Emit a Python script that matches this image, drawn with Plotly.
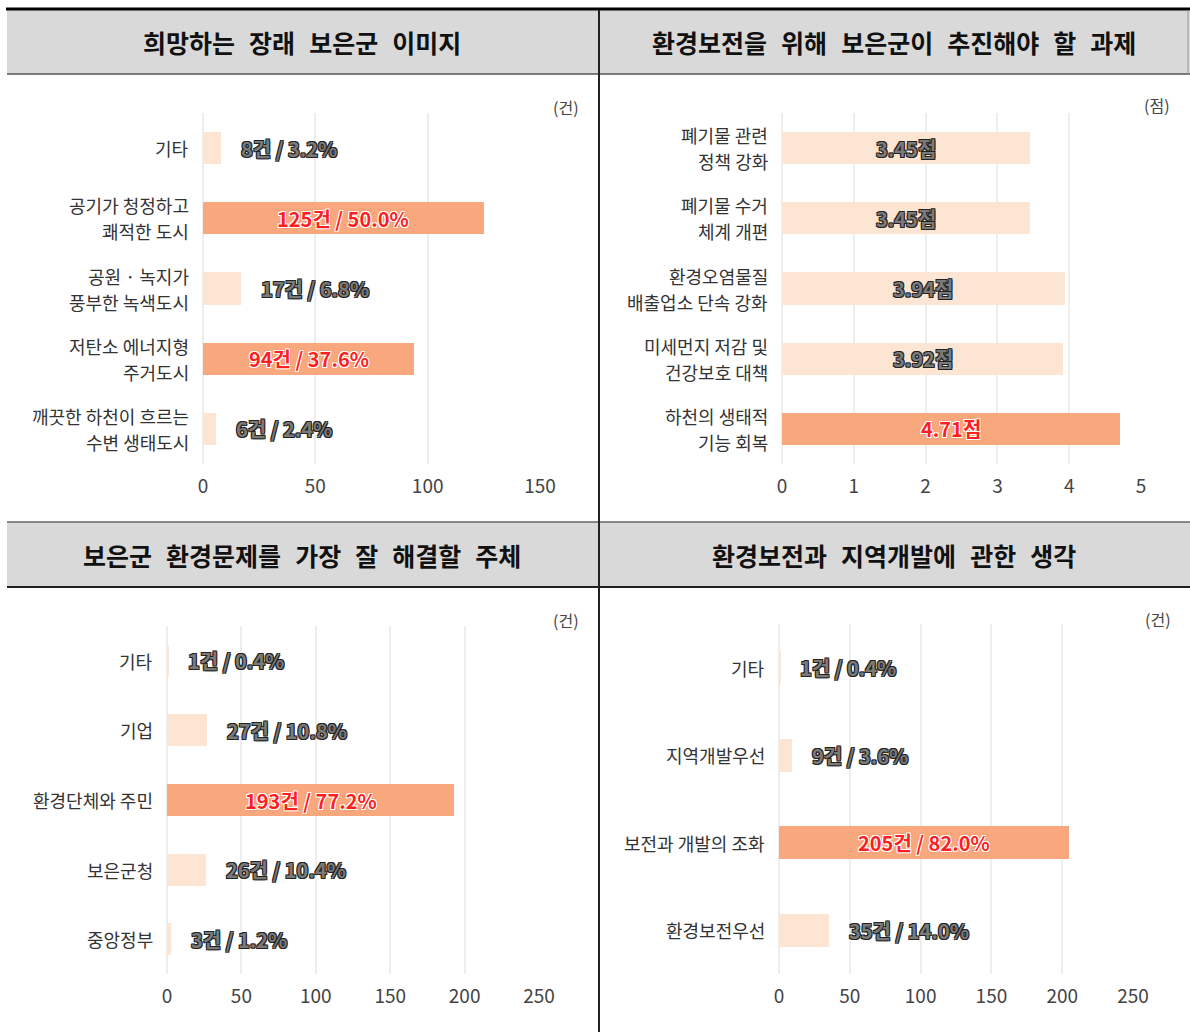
import plotly.graph_objects as go

W, H = 1190, 1032

titles = ["희망하는 장래 보은군 이미지",
          "환경보전을 위해 보은군이 추진해야 할 과제",
          "보은군 환경문제를 가장 잘 해결할 주체",
          "환경보전과 지역개발에 관한 생각"]

p1_cats = ["기타", "공기가 청정하고\n쾌적한 도시", "공원 · 녹지가\n풍부한 녹색도시",
           "저탄소 에너지형\n주거도시", "깨끗한 하천이 흐르는\n수변 생태도시"]
p1_vals = [8, 125, 17, 94, 6]
p1_pcts = [3.2, 50.0, 6.8, 37.6, 2.4]
p1_high = [False, True, False, True, False]

p2_cats = ["폐기물 관련\n정책 강화", "폐기물 수거\n체계 개편", "환경오염물질\n배출업소 단속 강화",
           "미세먼지 저감 및\n건강보호 대책", "하천의 생태적\n기능 회복"]
p2_vals = [3.45, 3.45, 3.94, 3.92, 4.71]
p2_high = [False, False, False, False, True]

p3_cats = ["기타", "기업", "환경단체와 주민", "보은군청", "중앙정부"]
p3_vals = [1, 27, 193, 26, 3]
p3_pcts = [0.4, 10.8, 77.2, 10.4, 1.2]
p3_high = [False, False, True, False, False]

p4_cats = ["기타", "지역개발우선", "보전과 개발의 조화", "환경보전우선"]
p4_vals = [1, 9, 205, 35]
p4_pcts = [0.4, 3.6, 82.0, 14.0]
p4_high = [False, False, True, False]

units = ["(건)", "(점)", "(건)", "(건)"]
x_ticks = [[0, 50, 100, 150], [0, 1, 2, 3, 4, 5], [0, 50, 100, 150, 200, 250], [0, 50, 100, 150, 200, 250]]

FONT = "Noto Sans CJK KR"
ORANGE = "#f8a87c"
LIGHT = "#fde5d3"
GRID = "#eeeeee"


def px_x(p):
    return p / W


def px_y(p):
    return 1 - p / H


panels = [
    dict(cats=p1_cats, vals=p1_vals, labels=[f"{v}건 / {p:.1f}%" for v, p in zip(p1_vals, p1_pcts)],
         high=p1_high, inside_all=False, rng=[0, 150], xd=[203, 540], yd=[113, 464], width=0.46,
         unit_pos=(566, 107)),
    dict(cats=p2_cats, vals=p2_vals, labels=[f"{v:.2f}점" for v in p2_vals],
         high=p2_high, inside_all=True, rng=[0, 5], xd=[782, 1141], yd=[113, 464], width=0.46,
         unit_pos=(1157, 105)),
    dict(cats=p3_cats, vals=p3_vals, labels=[f"{v}건 / {p:.1f}%" for v, p in zip(p3_vals, p3_pcts)],
         high=p3_high, inside_all=False, rng=[0, 250], xd=[167, 539], yd=[626, 974], width=0.46,
         unit_pos=(566, 620)),
    dict(cats=p4_cats, vals=p4_vals, labels=[f"{v}건 / {p:.1f}%" for v, p in zip(p4_vals, p4_pcts)],
         high=p4_high, inside_all=False, rng=[0, 250], xd=[779, 1133], yd=[624, 974], width=0.38,
         unit_pos=(1158, 619)),
]

fig = go.Figure()
annotations = []
shapes = []
layout_axes = {}

grey_shadow = "1px 1px 0 #222, -1px -1px 0 #222, 1px -1px 0 #222, -1px 1px 0 #222"
red_shadow = "1px 1px 0 #fff, -1px -1px 0 #fff, 1px -1px 0 #fff, -1px 1px 0 #fff, 0 0 2px #c00"

for i, p in enumerate(panels):
    n = len(p["cats"])
    ax = "" if i == 0 else str(i + 1)
    xa, ya = "x" + ax, "y" + ax
    idx = list(range(n))
    colors = [ORANGE if h else LIGHT for h in p["high"]]
    fig.add_trace(go.Bar(x=p["vals"], y=idx, orientation="h", xaxis=xa, yaxis=ya,
                         marker=dict(color=colors, line=dict(width=0)), width=p["width"],
                         hoverinfo="skip", showlegend=False))
    layout_axes["xaxis" + ax] = dict(
        domain=[px_x(p["xd"][0]), px_x(p["xd"][1])], range=p["rng"], anchor=ya,
        tickvals=x_ticks[i], showgrid=True, gridcolor=GRID, gridwidth=2,
        zeroline=True, zerolinecolor=GRID, zerolinewidth=2, showline=False,
        ticks="", ticklabelstandoff=9, automargin=False,
        tickfont=dict(family=FONT, size=19, color="#444"), fixedrange=True)
    layout_axes["yaxis" + ax] = dict(
        domain=[px_y(p["yd"][1]), px_y(p["yd"][0])], range=[n - 0.5, -0.5], anchor=xa,
        showticklabels=False, showgrid=False, zeroline=False, showline=False, fixedrange=True,
        automargin=False)

    # category labels (one text per line, 26px line pitch)
    for j, c in enumerate(p["cats"]):
        lines = c.split("\n")
        k = len(lines)
        for li, line in enumerate(lines):
            shift = (k - 1) / 2 * 26 - li * 26
            annotations.append(dict(
                text=line, xref=xa + " domain", yref=ya, x=0, y=j, xanchor="right",
                yanchor="middle", xshift=-12, yshift=shift, showarrow=False,
                font=dict(family=FONT, size=18, color="#333")))

    # value labels
    for j, (v, lab, h) in enumerate(zip(p["vals"], p["labels"], p["high"])):
        inside = h or p["inside_all"]
        font = dict(family=FONT, size=20, weight="bold",
                    color="#ff1f1f" if h else "#7a7a7a",
                    shadow=red_shadow if h else grey_shadow)
        if inside:
            annotations.append(dict(text=lab, xref=xa, yref=ya, x=v / 2, y=j, xanchor="center",
                                    yanchor="middle", showarrow=False, font=font))
        else:
            annotations.append(dict(text=lab, xref=xa, yref=ya, x=v, y=j, xanchor="left",
                                    yanchor="middle", xshift=18, showarrow=False, font=font))

    ux, uy = p["unit_pos"]
    annotations.append(dict(text=units[i], xref="paper", yref="paper", x=px_x(ux), y=px_y(uy),
                            xanchor="center", yanchor="middle", showarrow=False,
                            font=dict(family=FONT, size=16, color="#444")))

# panel headers and frame lines
for top, bot in [(10, 74), (522, 587)]:
    shapes.append(dict(type="rect", xref="paper", yref="paper", x0=px_x(7), x1=px_x(1190),
                       y0=px_y(bot), y1=px_y(top), fillcolor="#d9d9d9", line=dict(width=0),
                       layer="below"))
shapes.append(dict(type="line", xref="paper", yref="paper", x0=px_x(6), x1=px_x(1190),
                   y0=px_y(9), y1=px_y(9), line=dict(color="#000", width=3)))
shapes.append(dict(type="line", xref="paper", yref="paper", x0=px_x(7), x1=px_x(1190),
                   y0=px_y(74), y1=px_y(74), line=dict(color="#555", width=1.5)))
shapes.append(dict(type="line", xref="paper", yref="paper", x0=px_x(7), x1=px_x(1190),
                   y0=px_y(522), y1=px_y(522), line=dict(color="#666", width=1.5)))
shapes.append(dict(type="line", xref="paper", yref="paper", x0=px_x(7), x1=px_x(1190),
                   y0=px_y(587), y1=px_y(587), line=dict(color="#222", width=2)))
shapes.append(dict(type="line", xref="paper", yref="paper", x0=px_x(599), x1=px_x(599),
                   y0=px_y(1032), y1=px_y(10), line=dict(color="#222", width=2)))
shapes.append(dict(type="line", xref="paper", yref="paper", x0=px_x(1188), x1=px_x(1188),
                   y0=px_y(74), y1=px_y(10), line=dict(color="#999", width=1)))

title_pos = [(302, 42), (894, 42), (302, 555), (894, 555)]
for t, (tx, ty) in zip(titles, title_pos):
    annotations.append(dict(text=t.replace(" ", "\u2002\u200a"), xref="paper", yref="paper",
                            x=px_x(tx), y=px_y(ty), xanchor="center", yanchor="middle",
                            showarrow=False,
                            font=dict(family=FONT, size=25, weight="bold", color="#111")))

fig.update_layout(width=W, height=H, autosize=False,
                  margin=dict(l=0, r=0, t=0, b=0, pad=0, autoexpand=False),
                  paper_bgcolor="white", plot_bgcolor="white", bargap=0, showlegend=False,
                  annotations=annotations, shapes=shapes, **layout_axes)

fig.write_html("out.html", config={"displayModeBar": False},
               post_script="document.body.style.margin='0px';document.body.style.overflow='hidden';")
